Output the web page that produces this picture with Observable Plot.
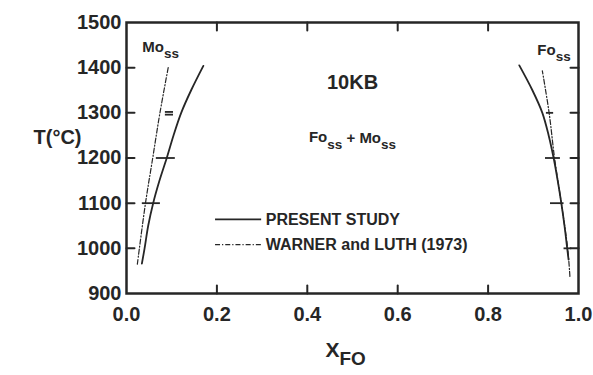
<!DOCTYPE html>
<html><head><meta charset="utf-8">
<script src="https://cdn.jsdelivr.net/npm/d3@7"></script>
<script src="https://cdn.jsdelivr.net/npm/@observablehq/plot@0.6"></script>
<style>
body{margin:0;background:#fff;}
svg text{font-family:"Liberation Sans",Arial,Helvetica,sans-serif;}
</style>
</head><body><div id="chart"></div>
<script>
// ---- data ----
// Present study, Mo-rich limb (solid)
const presentMoT = [966, 1000, 1050, 1100, 1150, 1200, 1250, 1300, 1350, 1404];
const presentMoX = [0.034, 0.040, 0.048, 0.059, 0.073, 0.089, 0.104, 0.121, 0.143, 0.170];
// Present study, Fo-rich limb (solid)
const presentFoT = [975, 1000, 1050, 1100, 1150, 1200, 1250, 1300, 1350, 1405];
const presentFoX = [0.978, 0.975, 0.969, 0.962, 0.954, 0.945, 0.934, 0.920, 0.898, 0.869];
// Warner and Luth (1973), Mo-rich limb (dash-dot)
const warnerMoT = [965, 1100, 1200, 1300, 1404];
const warnerMoX = [0.024, 0.042, 0.058, 0.074, 0.093];
// Warner and Luth (1973), Fo-rich limb (dash-dot)
const warnerFoT = [938, 1000, 1100, 1200, 1300, 1393];
const warnerFoX = [0.981, 0.976, 0.962, 0.947, 0.935, 0.920];
// Experimental brackets (horizontal bars)
const barT  = [1100, 1200, 1302, 1296, 1300, 1200, 1100, 1000];
const barX1 = [0.035, 0.066, 0.086, 0.086, 0.929, 0.927, 0.938, 0.968];
const barX2 = [0.075, 0.108, 0.104, 0.104, 0.945, 0.960, 0.968, 0.985];
// Axis ticks
const xTickValues = [0, 0.2, 0.4, 0.6, 0.8, 1.0];
const yTickValues = [900, 1000, 1100, 1200, 1300, 1400, 1500];
const xInnerTicks = [0.2, 0.4, 0.6, 0.8];
const yInnerTicks = [1000, 1100, 1200, 1300, 1400];
// Legend / labels
const legendLabels = ["PRESENT STUDY", "WARNER and LUTH (1973)"];

const ink = "#262626";
const font = '"Liberation Sans",Arial,Helvetica,sans-serif';
const dashDot = "5,2,1.2,2";

const zip = (T, X) => T.map((t, i) => ({T: t, x: X[i]}));
const bars = barT.map((t, i) => ({T: t, x1: barX1[i], x2: barX2[i]}));
const tickShape = {draw(ctx, l) { ctx.moveTo(0, 0); ctx.lineTo(0, -l); }};
const tk = (data, opts) => Plot.vector(data, {length: 8, anchor: "start", shape: tickShape, stroke: ink, strokeWidth: 2, ...opts});

const chart = Plot.plot({
  width: 593, height: 375,
  marginLeft: 126, marginRight: 15, marginTop: 22, marginBottom: 82,
  style: {background: "#fff", color: ink, fontFamily: font},
  x: {domain: [0, 1]},
  y: {domain: [900, 1500]},
  marks: [
    Plot.frame({stroke: ink, strokeWidth: 2.5}),
    Plot.axisX({ticks: xTickValues, tickFormat: d3.format(".1f"), tickSize: 0, tickPadding: 13, fontSize: 20, fontWeight: "bold", label: null}),
    Plot.axisY({ticks: yTickValues, tickFormat: d => String(d), tickSize: 0, tickPadding: 5, fontSize: 20, fontWeight: "bold", label: null}),
    tk(yInnerTicks, {y: d => d, frameAnchor: "left", rotate: 90}),
    tk(yInnerTicks, {y: d => d, frameAnchor: "right", rotate: -90}),
    tk(xInnerTicks, {x: d => d, frameAnchor: "bottom", rotate: 0}),
    tk(xInnerTicks, {x: d => d, frameAnchor: "top", rotate: 180}),
    Plot.line(zip(presentMoT, presentMoX), {x: "x", y: "T", stroke: ink, strokeWidth: 1.8, curve: "catmull-rom"}),
    Plot.line(zip(presentFoT, presentFoX), {x: "x", y: "T", stroke: ink, strokeWidth: 1.8, curve: "catmull-rom"}),
    Plot.line(zip(warnerMoT, warnerMoX), {x: "x", y: "T", stroke: ink, strokeWidth: 1.2, strokeDasharray: dashDot, curve: "catmull-rom"}),
    Plot.line(zip(warnerFoT, warnerFoX), {x: "x", y: "T", stroke: ink, strokeWidth: 1.2, strokeDasharray: dashDot, curve: "catmull-rom"}),
    Plot.ruleY(bars, {y: "T", x1: "x1", x2: "x2", stroke: ink, strokeWidth: 1.8}),
    // legend
    Plot.ruleY([legendLabels[0]], {y: 1064, x1: 0.197, x2: 0.299, stroke: ink, strokeWidth: 1.8}),
    Plot.ruleY([legendLabels[1]], {y: 1008, x1: 0.197, x2: 0.299, stroke: ink, strokeWidth: 1.2, strokeDasharray: dashDot}),
    Plot.text([legendLabels[0]], {x: 0.308, y: 1064, text: d => d, textAnchor: "start", fontSize: 16, fontWeight: "bold", fill: ink}),
    Plot.text([legendLabels[1]], {x: 0.308, y: 1008, text: d => d, textAnchor: "start", fontSize: 16, fontWeight: "bold", fill: ink}),
    // annotations
    Plot.text(["10KB"], {x: 0.5, y: 1367, text: d => d, fontSize: 20, fontWeight: "bold", fill: ink}),
    Plot.text(["Fo_{ss} + Mo_{ss}"], {x: 0.5, y: 1245, text: d => d, fontSize: 15, fontWeight: "bold", fill: ink}),
    Plot.text(["Mo_{ss}"], {x: 0.035, y: 1445, text: d => d, textAnchor: "start", fontSize: 15, fontWeight: "bold", fill: ink}),
    Plot.text(["Fo_{ss}"], {x: 0.909, y: 1438, text: d => d, textAnchor: "start", fontSize: 15, fontWeight: "bold", fill: ink}),
    // axis titles
    Plot.text(["T(°C)"], {frameAnchor: "left", dx: -93, y: 1245, text: d => d, fontSize: 20, fontWeight: "bold", fill: ink}),
    Plot.text(["X_{FO}"], {x: 0.44, frameAnchor: "bottom", dy: 63, text: d => d, textAnchor: "start", fontSize: 21, fontWeight: "bold", fill: ink})
  ]
});

// turn "_{..}" into subscript tspans (text remains real text)
d3.select(chart).selectAll("text").each(function() {
  const el = this;
  const t = el.textContent;
  if (!t.includes("_{")) return;
  const parts = t.split(/(_\{[^}]*\})/).filter(s => s.length);
  while (el.firstChild) el.removeChild(el.firstChild);
  let shifted = false;
  for (const p of parts) {
    const ts = document.createElementNS("http://www.w3.org/2000/svg", "tspan");
    if (p.startsWith("_{")) {
      ts.textContent = p.slice(2, -1);
      ts.setAttribute("dy", "0.45em");
      ts.setAttribute("font-size", "0.9em");
      shifted = true;
    } else {
      ts.textContent = p;
      if (shifted) { ts.setAttribute("dy", "-0.4em"); shifted = false; }
    }
    el.appendChild(ts);
  }
});

document.getElementById("chart").appendChild(chart);
</script>
</body></html>
